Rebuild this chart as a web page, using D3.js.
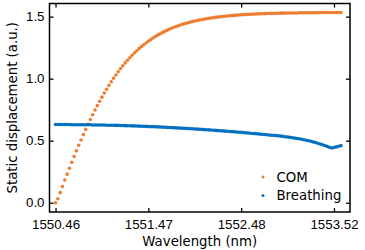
<!DOCTYPE html>
<html lang="en">
<head>
  <meta charset="UTF-8" />
  <title>Static displacement</title>
  <script src="https://d3js.org/d3.v7.min.js"></script>
  <style>
    body {
      margin: 0;
      background: #fff;
    }
    svg {
      font-family: "DejaVu Sans", sans-serif;
    }
    .axis text {
      font-size: 13.3px;
      fill: #000;
    }
    .axis line {
      stroke: #000;
      stroke-width: 1.3;
    }
    .axis path {
      display: none;
    }
    .label, .legend text {
      font-size: 13.3px;
      fill: #000;
    }
  </style>
</head>
<body>
  <svg id="chart" width="365" height="250"></svg>

  <script>
    // x positions are sample indices, labelled with wavelengths
    const tickIndex = [0, 40, 80, 120];
    const tickLabels = ["1550.46", "1551.47", "1552.48", "1553.52"];
    const yTicks = [0, 0.5, 1.0, 1.5];

    const com = [
      0.000, 0.032, 0.081, 0.130, 0.182, 0.230, 0.278, 0.326, 0.372, 0.418,
      0.463, 0.506, 0.549, 0.591, 0.632, 0.671, 0.709, 0.747, 0.783, 0.818,
      0.851, 0.884, 0.915, 0.946, 0.975, 1.003, 1.030, 1.056, 1.081, 1.104,
      1.127, 1.148, 1.169, 1.189, 1.208, 1.225, 1.242, 1.258, 1.274, 1.288,
      1.302, 1.315, 1.328, 1.339, 1.351, 1.361, 1.371, 1.381, 1.389, 1.398,
      1.406, 1.414, 1.421, 1.427, 1.434, 1.440, 1.445, 1.450, 1.455, 1.460,
      1.465, 1.469, 1.473, 1.476, 1.480, 1.483, 1.486, 1.489, 1.492, 1.494,
      1.497, 1.499, 1.501, 1.503, 1.505, 1.507, 1.509, 1.510, 1.512, 1.513,
      1.515, 1.516, 1.517, 1.518, 1.519, 1.520, 1.521, 1.522, 1.523, 1.523,
      1.524, 1.525, 1.525, 1.526, 1.526, 1.527, 1.527, 1.528, 1.528, 1.529,
      1.529, 1.529, 1.530, 1.530, 1.530, 1.531, 1.531, 1.531, 1.531, 1.532,
      1.532, 1.532, 1.532, 1.532, 1.533, 1.533, 1.533, 1.533, 1.533, 1.533,
      1.533, 1.533, 1.534, 1.534
    ];

    const breathing = [
      0.630, 0.630, 0.630, 0.630, 0.630, 0.630, 0.630, 0.629, 0.629, 0.629,
      0.629, 0.629, 0.629, 0.628, 0.628, 0.628, 0.627, 0.627, 0.627, 0.626,
      0.626, 0.626, 0.625, 0.625, 0.624, 0.624, 0.623, 0.623, 0.622, 0.622,
      0.621, 0.620, 0.620, 0.619, 0.619, 0.618, 0.617, 0.616, 0.616, 0.615,
      0.614, 0.613, 0.613, 0.612, 0.611, 0.610, 0.609, 0.608, 0.607, 0.606,
      0.605, 0.604, 0.603, 0.602, 0.601, 0.600, 0.599, 0.598, 0.597, 0.596,
      0.594, 0.593, 0.592, 0.591, 0.589, 0.588, 0.587, 0.586, 0.584, 0.583,
      0.581, 0.580, 0.579, 0.577, 0.576, 0.574, 0.573, 0.571, 0.570, 0.568,
      0.567, 0.565, 0.563, 0.562, 0.560, 0.558, 0.557, 0.555, 0.553, 0.552,
      0.550, 0.548, 0.546, 0.544, 0.543, 0.541, 0.539, 0.537, 0.535, 0.532,
      0.530, 0.527, 0.524, 0.521, 0.518, 0.515, 0.511, 0.507, 0.503, 0.499,
      0.495, 0.490, 0.485, 0.479, 0.473, 0.467, 0.461, 0.454, 0.447, 0.441,
      0.445, 0.450, 0.455, 0.460
    ];

    const seriesNames = ["COM", "Breathing"];
    const colors = ["#ED7D31", "#0070C0"];

    const svg = d3.select("#chart");
    const margin = { left: 49.5, right: 15, top: 3.5, bottom: 38 };
    const width = 365, height = 250;

    const x = d3.scaleLinear()
      .domain([-2.6, 126.9])
      .range([margin.left, width - margin.right]);

    const y = d3.scaleLinear()
      .domain([-0.075, 1.606])
      .range([height - margin.bottom, margin.top]);

    const x0 = margin.left, x1 = width - margin.right;
    const y0 = height - margin.bottom, y1 = margin.top;

    // ticks point inwards on all four sides
    svg.append("g")
      .attr("class", "axis")
      .attr("transform", `translate(0,${y0})`)
      .call(d3.axisBottom(x).tickValues(tickIndex)
        .tickFormat((d, i) => tickLabels[i])
        .tickSizeInner(-4).tickSizeOuter(0).tickPadding(8));

    svg.append("g")
      .attr("class", "axis")
      .attr("transform", `translate(0,${y1})`)
      .call(d3.axisTop(x).tickValues(tickIndex)
        .tickFormat("").tickSizeInner(-4).tickSizeOuter(0));

    svg.append("g")
      .attr("class", "axis")
      .attr("transform", `translate(${x0},0)`)
      .call(d3.axisLeft(y).tickValues(yTicks)
        .tickFormat(d3.format(".1f"))
        .tickSizeInner(-4).tickSizeOuter(0).tickPadding(5));

    svg.append("g")
      .attr("class", "axis")
      .attr("transform", `translate(${x1},0)`)
      .call(d3.axisRight(y).tickValues(yTicks)
        .tickFormat("").tickSizeInner(-4).tickSizeOuter(0));

    // data
    const plot = svg.append("g");
    [com, breathing].forEach((vals, k) => {
      plot.append("g")
        .selectAll("circle")
        .data(vals)
        .join("circle")
        .attr("cx", (d, i) => x(i))
        .attr("cy", d => y(d))
        .attr("r", 1.8)
        .attr("fill", colors[k]);
    });

    // frame
    svg.append("rect")
      .attr("x", x0)
      .attr("y", y1)
      .attr("width", x1 - x0)
      .attr("height", y0 - y1)
      .attr("fill", "none")
      .attr("stroke", "#000")
      .attr("stroke-width", 1.5);

    // axis labels
    svg.append("text")
      .attr("class", "label")
      .attr("x", (x0 + x1) / 2)
      .attr("y", height - 4)
      .attr("text-anchor", "middle")
      .text("Wavelength (nm)");

    svg.append("text")
      .attr("class", "label")
      .attr("transform", `translate(17,${(y0 + y1) / 2}) rotate(-90)`)
      .attr("text-anchor", "middle")
      .text("Static displacement (a.u.)");

    // legend
    const legend = svg.append("g")
      .attr("class", "legend")
      .attr("transform", `translate(${x1 - 87},${y0 - 35})`);

    seriesNames.forEach((name, k) => {
      const row = legend.append("g").attr("transform", `translate(0,${k * 18.5})`);
      row.append("circle").attr("cx", 0).attr("cy", 0).attr("r", 1.5).attr("fill", colors[k]);
      row.append("text").attr("x", 13.5).attr("y", 0).attr("dy", "0.36em").text(name);
    });
  </script>
</body>
</html>
